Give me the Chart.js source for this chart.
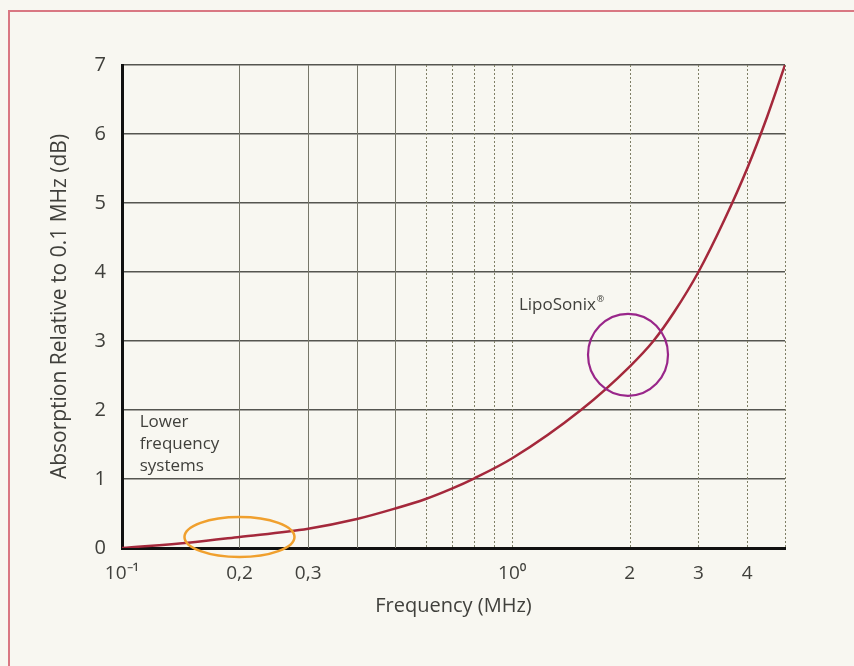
<!DOCTYPE html>
<html>
<head>
<meta charset="utf-8">
<script src="https://cdn.jsdelivr.net/npm/chart.js@4/dist/chart.umd.min.js"></script>
<style>
  html, body { margin: 0; padding: 0; background: #f8f7f1; }
  #wrap { position: relative; width: 854px; height: 666px; overflow: hidden; }
  #frame { position: absolute; left: 8px; top: 10px; width: 860px; height: 670px;
           border-left: 2px solid #d97883; border-top: 2px solid #d97883; }
  #c { position: absolute; left: 0; top: 0; }
</style>
</head>
<body>
<div id="wrap">
  <div id="frame"></div>
  <canvas id="c" width="854" height="666"></canvas>
</div>
<script>
// ---- data ----
const frequencyMHz = [0.1, 0.15, 0.2, 0.3, 0.4, 0.5, 0.6, 0.7, 0.8, 1.0, 1.5, 2.0, 2.3, 2.6, 3.0, 3.5, 4.0, 4.5, 5.0];
const absorptionDb = [0, 0.08, 0.16, 0.28, 0.42, 0.57, 0.71, 0.86, 1.01, 1.30, 2.0, 2.63, 3.0, 3.42, 4.0, 4.76, 5.5, 6.25, 7.0];

const xTickValues = [0.1, 0.2, 0.3, 1, 2, 3, 4];
const xTickLabels = ['10\u207B\u00B9', '0,2', '0,3', '10\u2070', '2', '3', '4'];
const solidGridValues = [0.2, 0.3, 0.4, 0.5];
const dottedGridValues = [0.6, 0.7, 0.8, 0.9, 1, 2, 3, 4, 5];

const lowerLabelLines = ['Lower', 'frequency', 'systems'];
const lowerLabelAt = [0.111, 1.83];
const lipoLabel = 'LipoSonix';
const lipoLabelAt = [1.04, 3.52];
const lipoCircleAt = [1.98, 2.8];
const lowerEllipseAt = [0.2, 0.16];

const FONT = "'Open Sans', 'Liberation Sans', sans-serif";
const TEXT = '#40403c';

const overlay = {
  id: 'overlay',
  beforeDatasetsDraw(chart) {
    const {ctx, chartArea: a, scales: {x}} = chart;
    ctx.save();
    ctx.lineWidth = 1;
    ctx.strokeStyle = '#77776a';
    solidGridValues.forEach(v => {
      const px = Math.round(x.getPixelForValue(v)) + 0.5;
      ctx.beginPath(); ctx.moveTo(px, a.top); ctx.lineTo(px, a.bottom); ctx.stroke();
    });
    ctx.strokeStyle = '#7f7f66';
    ctx.setLineDash([2, 2]);
    dottedGridValues.forEach(v => {
      const px = Math.round(x.getPixelForValue(v)) + 0.5;
      ctx.beginPath(); ctx.moveTo(px, a.top); ctx.lineTo(px, a.bottom); ctx.stroke();
    });
    ctx.restore();
  },
  afterDatasetsDraw(chart) {
    const {ctx, scales: {x, y}} = chart;
    ctx.save();
    ctx.fillStyle = TEXT;
    ctx.font = '17px ' + FONT;
    ctx.textAlign = 'left';
    ctx.textBaseline = 'middle';
    const lx = x.getPixelForValue(lowerLabelAt[0]);
    const ly = y.getPixelForValue(lowerLabelAt[1]);
    lowerLabelLines.forEach((t, i) => ctx.fillText(t, lx, ly + i * 22));
    const px = x.getPixelForValue(lipoLabelAt[0]);
    const py = y.getPixelForValue(lipoLabelAt[1]);
    ctx.fillText(lipoLabel, px, py);
    const w = ctx.measureText(lipoLabel).width;
    ctx.font = '9px ' + FONT;
    ctx.fillText('\u00AE', px + w + 1, py - 6);
    ctx.strokeStyle = '#99268a';
    ctx.lineWidth = 2.2;
    ctx.beginPath();
    ctx.ellipse(x.getPixelForValue(lipoCircleAt[0]), y.getPixelForValue(lipoCircleAt[1]), 40, 41, 0, 0, Math.PI * 2);
    ctx.stroke();
    ctx.strokeStyle = '#f0a02e';
    ctx.lineWidth = 2.5;
    ctx.beginPath();
    ctx.ellipse(x.getPixelForValue(lowerEllipseAt[0]), y.getPixelForValue(lowerEllipseAt[1]), 55, 20, 0, 0, Math.PI * 2);
    ctx.stroke();
    ctx.restore();
  }
};

new Chart(document.getElementById('c'), {
  type: 'line',
  data: {
    datasets: [{
      data: frequencyMHz.map((f, i) => ({x: f, y: absorptionDb[i]})),
      borderColor: '#a4283b',
      borderWidth: 2.5,
      pointRadius: 0,
      cubicInterpolationMode: 'monotone',
      fill: false
    }]
  },
  options: {
    responsive: false,
    devicePixelRatio: 1,
    animation: false,
    layout: { padding: { left: 0, right: 69, top: 65, bottom: 38 } },
    plugins: { legend: { display: false }, tooltip: { enabled: false } },
    scales: {
      x: {
        type: 'logarithmic',
        min: 0.1, max: 5,
        afterFit(s) { s.height = 80; },
        afterBuildTicks(s) { s.ticks = xTickValues.map(v => ({value: v})); },
        grid: { display: false, drawTicks: false },
        border: { display: true, color: '#111', width: 3 },
        ticks: {
          autoSkip: false, maxRotation: 0, padding: 14,
          color: TEXT, font: { family: FONT, size: 19 },
          callback(v) { const i = xTickValues.indexOf(v); return i >= 0 ? xTickLabels[i] : ''; }
        },
        title: { display: true, text: 'Frequency (MHz)', color: TEXT,
                 font: { family: FONT, size: 20 }, padding: { top: 0, bottom: 10 } }
      },
      y: {
        min: 0, max: 7,
        afterFit(s) { s.width = 122; },
        grid: { color: '#555550', lineWidth: 1.5, drawTicks: false },
        border: { display: true, color: '#111', width: 3 },
        ticks: { stepSize: 1, padding: 16, color: TEXT, font: { family: FONT, size: 20 } },
        title: { display: true, text: 'Absorption Relative to 0.1 MHz (dB)', color: TEXT,
                 font: { family: FONT, size: 21 }, padding: { top: 47, bottom: 0 } }
      }
    }
  },
  plugins: [overlay]
});
</script>
</body>
</html>
